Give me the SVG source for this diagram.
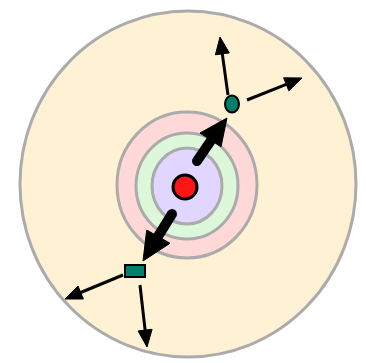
<svg xmlns="http://www.w3.org/2000/svg" width="366" height="363" viewBox="0 0 366 363">
<style>
.ring{stroke:#ABABAB;stroke-width:3}
.node{fill:#00806A;stroke:#000;stroke-width:2}
.thick{stroke:#000;stroke-width:10;stroke-linecap:round;fill:none}
.thin{stroke:#000;stroke-width:3;fill:none}
.head{fill:#000;stroke:#000;stroke-width:1;stroke-linejoin:miter}
</style>
<rect width="366" height="363" fill="#FFFFFF"/>
<g id="outer"><ellipse cx="188" cy="184" rx="168" ry="173" fill="#FFF2D4" class="ring"/></g>
<g id="pink"><ellipse cx="187" cy="185" rx="70" ry="73" fill="#FFD8D8" class="ring"/></g>
<g id="green"><ellipse cx="187" cy="186" rx="51" ry="53" fill="#DDF7DB" class="ring"/></g>
<g id="purple"><ellipse cx="187" cy="186" rx="35" ry="38" fill="#E0D6FF" class="ring"/></g>
<g id="center"><circle cx="185" cy="187" r="12" fill="#FF1418" stroke="#000" stroke-width="3"/></g>
<g id="nodeTop"><ellipse cx="232" cy="104" rx="7" ry="8.5" class="node"/></g>
<g id="nodeBottom"><rect x="125" y="265" width="20" height="12" class="node"/></g>
<g id="connectors">
<line x1="197" y1="161" x2="212" y2="139" class="thick"/>
<polygon points="227,118 221,146.7 200,133" class="head"/>
<line x1="172" y1="214" x2="157" y2="238" class="thick"/>
<polygon points="143,261 170,243.3 146.7,230" class="head"/>
<line x1="228" y1="95" x2="222.3" y2="53.9" class="thin"/>
<polygon points="220,37 229.3,52.9 215.4,54.8" class="head"/>
<line x1="247" y1="100" x2="286.2" y2="84.3" class="thin"/>
<polygon points="302,78 288.8,90.8 283.6,77.8" class="head"/>
<line x1="123" y1="275" x2="80.7" y2="292.5" class="thin"/>
<polygon points="65,299 83.4,299 78,286" class="head"/>
<line x1="140" y1="285" x2="145.1" y2="330.1" class="thin"/>
<polygon points="147,347 152.1,329.3 138.1,330.9" class="head"/>
</g>
</svg>
